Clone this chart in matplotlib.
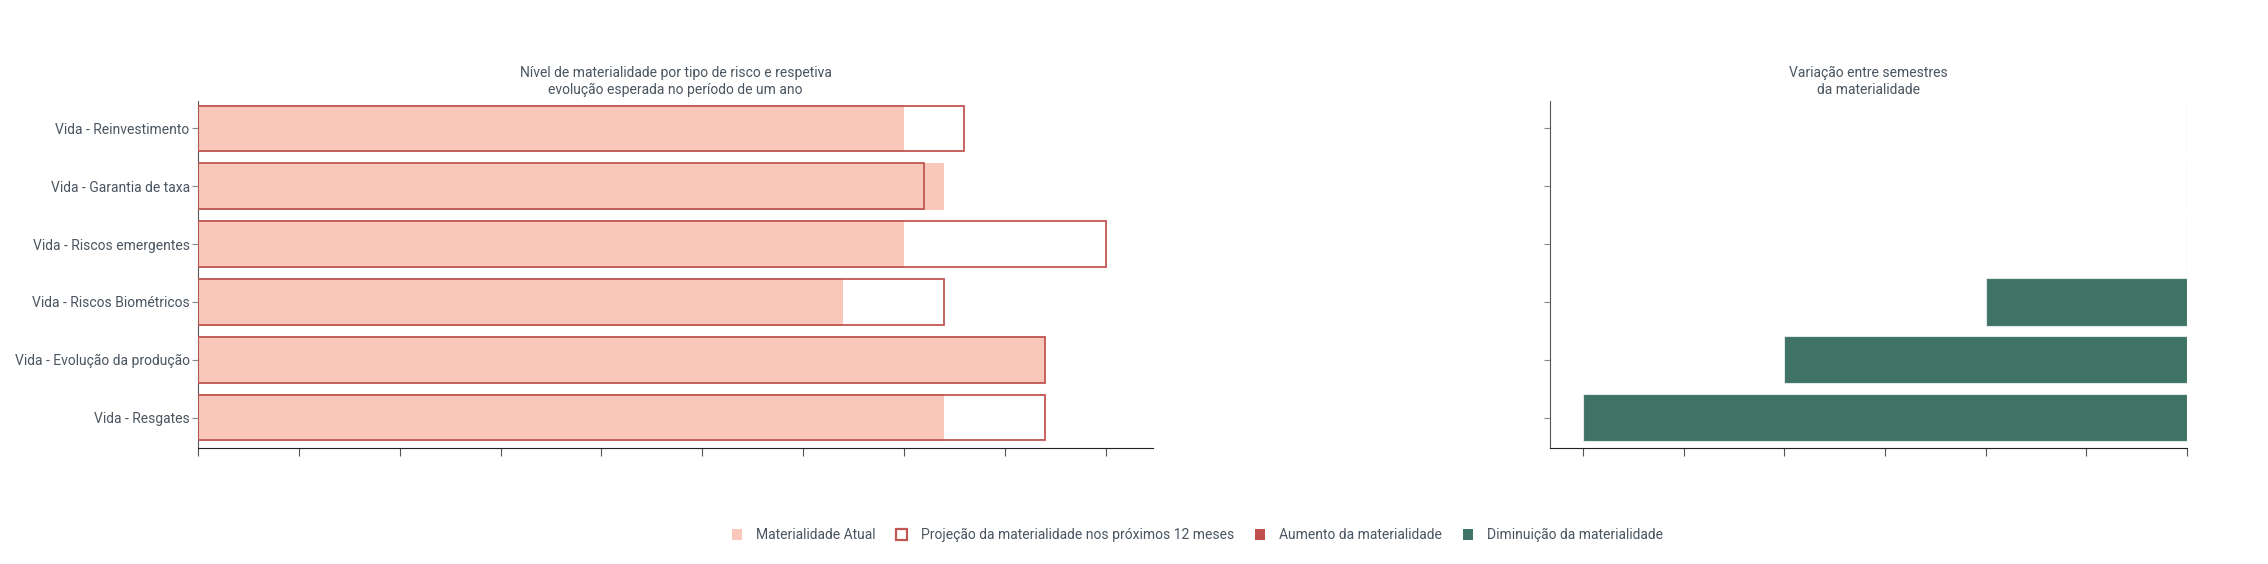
import matplotlib.pyplot as plt
import numpy as np
from matplotlib.patches import Patch

plt.rcParams['font.family'] = ['Roboto', 'DejaVu Sans']

categorias = ["Vida - Reinvestimento", "Vida - Garantia de taxa", "Vida - Riscos emergentes",
              "Vida - Riscos Biométricos", "Vida - Evolução da produção", "Vida - Resgates"]
atual = [7.0, 7.4, 7.0, 6.4, 8.4, 7.4]
projecao = [7.6, 7.2, 9.0, 7.4, 8.4, 8.4]
variacao = [0, 0, 0, -2, -4, -6]

c_atual = "#F9C8BA"
c_proj = "#C05754"
c_aum = "#C0504D"
c_dim = "#3F7366"
c_txt = "#4A5560"

fig = plt.figure(figsize=(22.68, 5.64), dpi=100)
ax1 = fig.add_axes([0.0873, 0.2057, 0.4211, 0.6153])
ax2 = fig.add_axes([0.6834, 0.2057, 0.2809, 0.6153])

y = np.arange(len(categorias))

# painel esquerdo
ax1.barh(y, atual, height=0.82, color=c_atual, edgecolor="none", zorder=2)
ax1.barh(y, projecao, height=0.79, facecolor="none", edgecolor=c_proj, linewidth=1.3, zorder=3)
ax1.set_xlim(0, 9.47)
ax1.set_ylim(5.525, -0.475)
ax1.set_yticks(y)
ax1.set_yticklabels(categorias, fontsize=10, color=c_txt)
ax1.set_xticks(np.arange(0, 10))
ax1.set_xticklabels([])
ax1.set_title("Nível de materialidade por tipo de risco e respetiva\nevolução esperada no período de um ano",
              fontsize=10, color=c_txt, pad=5, linespacing=1.3)

# painel direito
ax2.barh(y, variacao, height=0.82, color=c_dim, edgecolor="#E0E8E6", linewidth=0.8, zorder=2)
ax2.set_xlim(-6.33, 0)
ax2.set_ylim(5.525, -0.475)
ax2.set_yticks(y)
ax2.set_yticklabels([])
ax2.set_xticks(np.arange(-6, 1))
ax2.set_xticklabels([])
ax2.axvline(0, color="#C8C8C8", linewidth=0.8, zorder=1)
ax2.set_title("Variação entre semestres\nda materialidade", fontsize=10, color=c_txt, pad=5, linespacing=1.3)

for ax in (ax1, ax2):
    for s in ("top", "right"):
        ax.spines[s].set_visible(False)
    ax.spines["left"].set_color("#555555")
    ax.spines["bottom"].set_color("#222222")
    ax.tick_params(axis="y", length=4, color="#888888", pad=2)
    ax.tick_params(axis="x", length=6, color="#555555")

handles = [
    Patch(facecolor=c_atual, edgecolor="none", label="Materialidade Atual"),
    Patch(facecolor="white", edgecolor=c_proj, linewidth=1.6, label="Projeção da materialidade nos próximos 12 meses"),
    Patch(facecolor=c_aum, edgecolor="none", label="Aumento da materialidade"),
    Patch(facecolor=c_dim, edgecolor="none", label="Diminuição da materialidade"),
]
leg = fig.legend(handles=handles, loc="center", bbox_to_anchor=(0.528, 0.051), ncol=4, frameon=False,
                 fontsize=10, handlelength=0.75, handleheight=0.9, columnspacing=1.5, handletextpad=1.0)
for t in leg.get_texts():
    t.set_color(c_txt)

fig.savefig("out.png", dpi=100)
